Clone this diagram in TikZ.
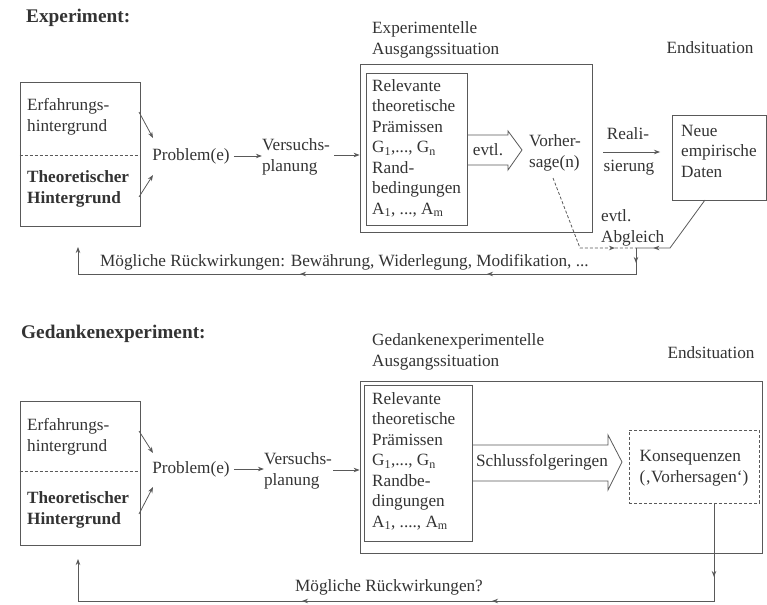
\documentclass[tikz,border=0pt]{standalone}
\usepackage{fontspec}
\setmainfont{Liberation Serif}
\usetikzlibrary{arrows.meta,decorations.markings}
\pgfkeys{/pgf/decoration/mtip/.style={mark=at position #1 with {\arrow{Stealth[length=6pt,width=4.5pt]}}}}
\begin{document}
\begin{tikzpicture}[x=1pt,y=-1pt,
  every node/.style={text=black!80, font=\fontsize{17.2}{20.5}\selectfont, inner sep=0pt},
  ln/.style={draw=black!65, line width=0.8pt},
  tip/.style={-{Stealth[length=6pt,width=4.5pt]}},
  boxn/.style={ln, rectangle},
  lbl/.style={align=left},
  bfl/.style={font=\fontsize{17.2}{20.5}\selectfont\bfseries},
  head/.style={font=\fontsize{19.3}{22}\selectfont\bfseries, anchor=west},
  dsh/.style={dash pattern=on 3pt off 2pt},
  marks/.style={postaction={decorate,decoration={markings,#1}}}
]
\useasboundingbox (0,0) rectangle (767,604);

%================ Experiment =================
\node[head] (t1) at (26,18) {Experiment:};

\node[boxn, minimum width=120pt, minimum height=144pt] (L1) at (80,154) {};
\draw[ln, dsh] (L1.west |- 0,155) -- (L1.east |- 0,155);
\node[lbl, anchor=west] (e1) at (27,117) {Erfahrungs-\\hintergrund};
\node[lbl, anchor=west, bfl] (th1) at (27,189) {Theoretischer\\Hintergrund};

\node (p1) at (191,156) {Problem(e)};
\coordinate (a1s) at (139,112); \coordinate (a1e) at (153,138);
\coordinate (b1s) at (139,197); \coordinate (b1e) at (153,175);
\draw[ln, tip] (a1s) -- (a1e);
\draw[ln, tip] (b1s) -- (b1e);

\node[lbl] (v1) at (296,157) {Versuchs-\\planung};
\draw[ln, tip] (p1.east) ++(4,0) coordinate (p1r) (p1r) -- (v1.west |- p1r);

\node[boxn, minimum width=232pt, minimum height=168pt] (O1) at (476,148) {};
\node[boxn, minimum width=101pt, minimum height=152pt] (I1) at (416.5,149) {};
\draw[ln, tip] (v1.east |- 0,155) ++(4,0) -- (O1.west |- 0,155);
\node[lbl, anchor=west] (ot1) at (372,40) {Experimentelle\\Ausgangssituation};
\node[lbl, anchor=north west] (it1) at (372,79) {Relevante\\theoretische\\Prämissen\\G\textsubscript{1},..., G\textsubscript{n}\\Rand-\\bedingungen\\A\textsubscript{1}, ..., A\textsubscript{m}};

\draw[ln] (I1.east |- 0,135) -- (508,135) -- (508,131) -- (522,150) -- (508,170) -- (508,165) -- (I1.east |- 0,165);
\node (ev1) at (488,150) {evtl.};
\node[lbl] (vh1) at (555,153) {Vorher-\\sage(n)};

\node (re1) at (628,134) {Reali-};
\node (si1) at (629,168) {sierung};
\coordinate (r1s) at (603,152); \coordinate (r1e) at (660,152);
\draw[ln, tip] (r1s) -- (r1e);

\node (es1) at (710,48) {Endsituation};
\node[boxn, minimum width=94pt, minimum height=85pt] (N1) at (719,157.5) {};
\node[lbl, anchor=west] (nt1) at (681,151) {Neue\\empirische\\Daten};

\node[lbl, anchor=west] (ab1) at (601,228) {evtl.\\Abgleich};

\coordinate (J1) at (636,248);
\coordinate (n1b) at (705,200);
\coordinate (k1) at (670,248);
\draw[ln, marks={mtip=76pt}] (n1b) -- (k1) -- (J1);
\coordinate (vh1b) at (553,178);
\coordinate (d1) at (580,248);
\draw[ln, dsh, marks={mtip=110pt}] (vh1b) -- (d1) -- (J1);
\coordinate (J1b) at (636,274);
\coordinate (F1) at (78,274);
\coordinate (F1t) at (78,247);
\draw[ln, marks={mtip=15pt, mtip=175pt, mtip=362pt}, tip] (J1) -- (J1b) -- (F1) -- (F1t);
\node[anchor=west] (mr1) at (100,262) {Mögliche Rückwirkungen: Bewährung, Widerlegung, Modifikation, ...};

%================ Gedankenexperiment =================
\node[head] (t2) at (21,334) {Gedankenexperiment:};

\node[boxn, minimum width=120pt, minimum height=144pt] (L2) at (80,473.5) {};
\draw[ln, dsh] (L2.west |- 0,471) -- (L2.east |- 0,471);
\node[lbl, anchor=west] (e2) at (27,437) {Erfahrungs-\\hintergrund};
\node[lbl, anchor=west, bfl] (th2) at (27,510) {Theoretischer\\Hintergrund};

\node (p2) at (191,469) {Problem(e)};
\coordinate (a2s) at (139,431); \coordinate (a2e) at (153,453);
\coordinate (b2s) at (139,514); \coordinate (b2e) at (153,487);
\draw[ln, tip] (a2s) -- (a2e);
\draw[ln, tip] (b2s) -- (b2e);

\node[lbl] (v2) at (298,471) {Versuchs-\\planung};
\draw[ln, tip] (p2.east) ++(4,0) coordinate (p2r) (p2r) -- (v2.west |- p2r);

\node[boxn, minimum width=402pt, minimum height=172pt] (O2) at (561,467) {};
\node[boxn, minimum width=108pt, minimum height=156pt] (I2) at (418,463) {};
\draw[ln, tip] (v2.east |- 0,470) ++(1,0) -- (O2.west |- 0,470);
\node[lbl, anchor=west] (ot2) at (372,352) {Gedankenexperimentelle\\Ausgangssituation};
\node[lbl, anchor=north west] (it2) at (372,392) {Relevante\\theoretische\\Prämissen\\G\textsubscript{1},..., G\textsubscript{n}\\Randbe-\\dingungen\\A\textsubscript{1}, ...., A\textsubscript{m}};

\draw[ln] (I2.east |- 0,445) -- (608,445) -- (608,435) -- (622,462) -- (608,490) -- (608,481) -- (I2.east |- 0,481);
\node (sf2) at (542,462) {Schlussfolgeringen};

\node (es2) at (711,353) {Endsituation};
\node[boxn, dsh, minimum width=130pt, minimum height=73pt] (K2) at (694,466.5) {};
\node[lbl] (kt2) at (694,468) {Konsequenzen\\(‚Vorhersagen‘)};

\coordinate (K2b) at (714,503);
\coordinate (J2) at (714,601);
\coordinate (F2) at (78,601);
\coordinate (F2t) at (78,559);
\draw[ln, marks={mtip=74pt, mtip=320pt, mtip=510pt}, tip] (K2b) -- (J2) -- (F2) -- (F2t);
\node (mr2) at (389,587) {Mögliche Rückwirkungen?};
\end{tikzpicture}
\end{document}
